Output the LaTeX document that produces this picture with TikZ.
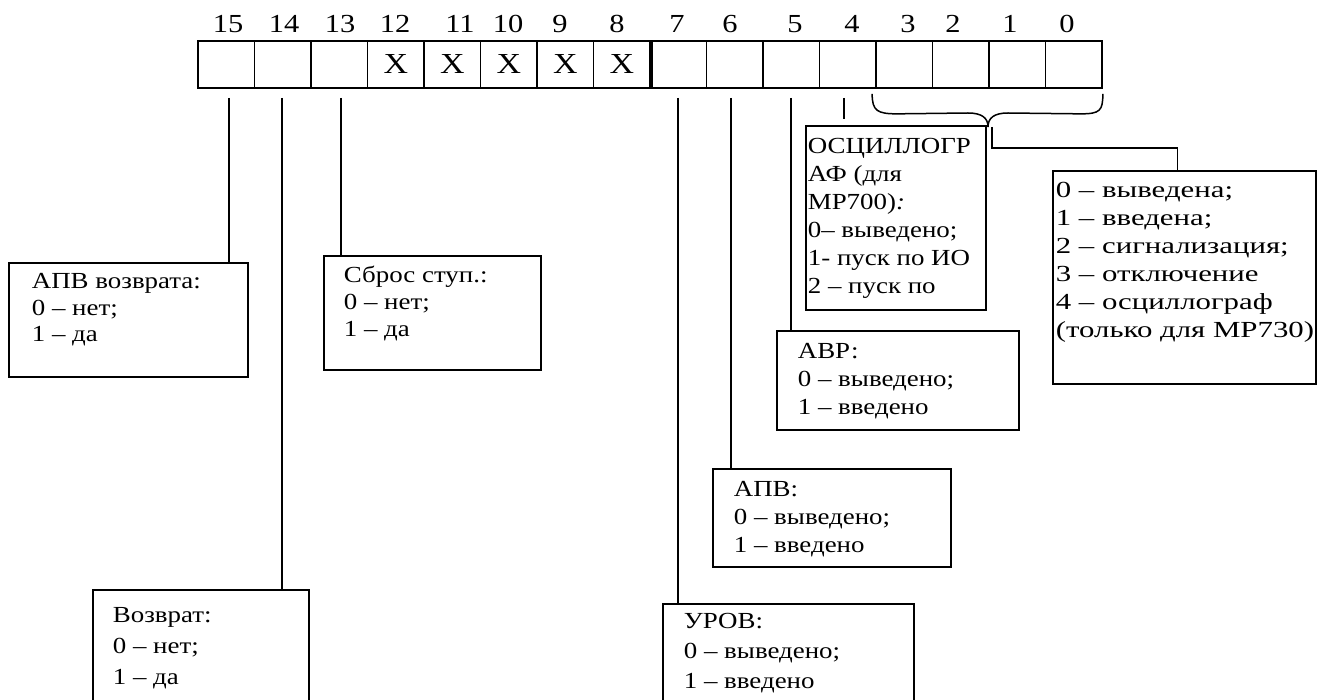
\documentclass[tikz,border=0pt]{standalone}
\usepackage{fontspec}
\setmainfont[FakeStretch=1.17]{Liberation Serif}
\newfontfamily\widefont[FakeStretch=1.34]{Liberation Serif}
\begin{document}
\begin{tikzpicture}[x=1pt,y=-1pt,line width=1.7pt,
  cell/.style={draw,minimum width=56.5pt,minimum height=47pt,inner sep=0pt,font=\fontsize{29}{30}\selectfont},
  num/.style={anchor=base,inner sep=0pt,font=\fontsize{26}{30}\selectfont},
  box/.style={draw,inner sep=0pt,anchor=north west},
  txt/.style={anchor=north west,inner sep=0pt,align=left,font=\fontsize{23}{28}\selectfont}]
\useasboundingbox (0,0) rectangle (1324,700);
\clip (0,0) rectangle (1324,700);
\fill[white] (0,0) rectangle (1324,700);
% register cells
\foreach \b in {0,...,7,13,14,15}
  \node[cell] (c\b) at ({198+56.5*(15.5-\b)},64.5) {};
\foreach \b in {8,...,12}
  \node[cell] (c\b) at ({198+56.5*(15.5-\b)},64.5) {X};
\draw[line width=4pt] (c8.north east) -- (c8.south east);
% bit numbers
\foreach \b/\x in {15/228,14/284,13/340,12/395,11/460,10/508,9/560,8/617,7/677,6/730,5/795,4/852,3/908,2/953,1/1010,0/1067}
  \node[num] (n\b) at (\x,33) {\b};
% boxes
\node[box,minimum width=239pt,minimum height=114pt] (b15) at (8,262) {};
\node[box,minimum width=217pt,minimum height=114pt] (b13) at (323,255) {};
\node[box,minimum width=216pt,minimum height=140pt] (b14) at (92,589) {};
\node[box,minimum width=251pt,minimum height=130pt] (b7) at (662,603) {};
\node[box,minimum width=238pt,minimum height=98pt] (b6) at (712,468) {};
\node[box,minimum width=242pt,minimum height=99pt] (b5) at (776,330) {};
\node[box,minimum width=180pt,minimum height=184pt] (b4) at (805,125) {};
\node[box,minimum width=263pt,minimum height=213pt] (bR) at (1052,170) {};
% texts
\node[txt,font=\fontsize{23}{26.5}\selectfont] (t15) at ([shift={(23,7.5)}]b15.north west) {\strut АПВ возврата:\\0 – нет;\\1 – да};
\node[txt,font=\fontsize{23}{27}\selectfont] (t13) at ([shift={(20,7.5)}]b13.north west) {\strut Сброс ступ.:\\0 – нет;\\1 – да};
\node[txt,font=\fontsize{23}{31}\selectfont] (t14) at ([shift={(20,11.3)}]b14.north west) {\strut Возврат:\\0 – нет;\\1 – да};
\node[txt,font=\fontsize{23}{30}\selectfont] (t7) at ([shift={(21,4)}]b7.north west) {\strut УРОВ:\\0 – выведено;\\1 – введено};
\node[txt] (t6) at ([shift={(21,8)}]b6.north west) {\strut АПВ:\\0 – выведено;\\1 – введено};
\node[txt] (t5) at ([shift={(21,8)}]b5.north west) {\strut АВР:\\0 – выведено;\\1 – введено};
\node[txt] (t4) at ([shift={(2,8)}]b4.north west) {\strut ОСЦИЛЛОГР\\АФ (для\\МР700)\textit{:}\\0– выведено;\\1- пуск по ИО\\2 – пуск по};
\node[txt,font=\widefont\fontsize{23}{28}\selectfont] (tR) at ([shift={(3,7)}]bR.north west) {\strut 0 – выведена;\\1 – введена;\\2 – сигнализация;\\3 – отключение\\4 – осциллограф\\(только для МР730)};
% connectors
\foreach \b/\dx in {15/3,14/-1,13/2,7/0,6/-4,5/0}{
  \coordinate (s\b) at ([xshift=\dx pt,yshift=-9pt]c\b.south);
  \draw (s\b) -- (s\b |- b\b.north);
}
\coordinate (s4) at ([xshift=-4pt,yshift=-9pt]c4.south);
\coordinate (e4) at ([yshift=-21pt]s4);
\draw (s4) -- (e4);
% brace over bits 3..0
\coordinate (brL) at ([xshift=-3pt,yshift=-5pt]c3.south west);
\coordinate (brR) at ([yshift=-5pt]c0.south east);
\coordinate (tip) at (988,127);
\draw[line width=1.5pt] (brL) .. controls ([yshift=-17pt]brL) and ([shift={(5,20)}]brL) .. ([shift={(25,20)}]brL)
  -- (968,113) .. controls (982,113) and (988,118) .. (tip)
  .. controls (988,118) and (994,113) .. (1008,113)
  -- ([shift={(-22,20)}]brR) .. controls ([shift={(-3,20)}]brR) and ([yshift=-17pt]brR) .. (brR);
\coordinate (k1) at (992,127);
\draw (k1) -- (992,148) -| ([xshift=-7pt]bR.north);
\end{tikzpicture}
\end{document}
